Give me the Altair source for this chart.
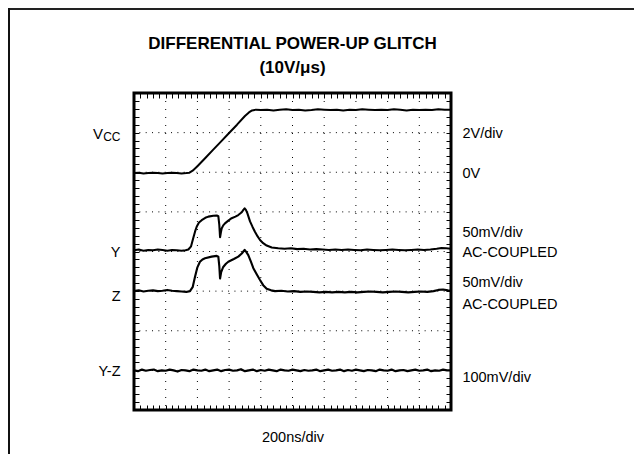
import altair as alt
import pandas as pd

# ---- data (screen divisions on y, ns on x) ----
VCC = [(0,5.98),(30,5.99),(60,5.97),(90,5.98),(120,5.99),(150,5.98),(180,5.97),(210,5.98),(240,5.99),(270,5.98),(300,5.97),(330,5.98),
       (350,5.99),(370,6.04),(400,6.15),(450,6.36),(500,6.57),(550,6.78),(600,6.99),(650,7.20),(700,7.42),(725,7.51),(745,7.56),(770,7.58),
       (800,7.57),(840,7.58),(880,7.56),(920,7.58),(960,7.59),(1000,7.57),(1040,7.58),(1080,7.56),(1120,7.57),(1160,7.59),(1200,7.58),
       (1240,7.57),(1280,7.58),(1320,7.56),(1360,7.58),(1400,7.57),(1440,7.59),(1480,7.58),(1520,7.57),(1560,7.58),(1600,7.57),(1640,7.59),
       (1680,7.58),(1720,7.56),(1760,7.58),(1800,7.57),(1840,7.58),(1880,7.57),(1920,7.59),(1960,7.58),(2000,7.58)]

Y = [(0,4.03),(30,4.05),(60,4.02),(90,4.04),(120,4.03),(150,4.05),(180,4.04),(210,4.02),(240,4.04),(270,4.03),(300,4.02),(325,4.03),
     (343,4.05),(360,4.13),(374,4.34),(385,4.50),(396,4.63),(410,4.73),(427,4.79),(450,4.85),(469,4.88),(500,4.90),(522,4.91),(532,4.89),
     (538,4.68),(543,4.36),(548,4.48),(553,4.58),(563,4.66),(574,4.71),(595,4.78),(616,4.84),(640,4.88),(658,4.92),(680,4.99),(690,5.05),
     (698,5.09),(706,5.05),(715,4.97),(732,4.76),(748,4.62),(763,4.50),(780,4.38),(795,4.29),(815,4.21),(837,4.15),(869,4.10),(910,4.08),
     (950,4.07),(990,4.08),(1030,4.06),(1070,4.07),(1110,4.05),(1150,4.06),(1190,4.05),(1230,4.04),(1270,4.05),(1310,4.04),(1350,4.05),
     (1390,4.04),(1430,4.03),(1470,4.05),(1510,4.04),(1550,4.03),(1590,4.04),(1630,4.05),(1670,4.04),(1710,4.03),(1750,4.04),(1790,4.05),
     (1830,4.04),(1870,4.05),(1910,4.07),(1940,4.09),(1970,4.08),(2000,4.07)]

Z = [(0,3.00),(30,3.02),(60,2.99),(90,3.01),(120,3.02),(150,3.00),(180,3.01),(210,3.03),(240,3.01),(270,3.00),(300,2.99),(330,2.98),
     (353,3.00),(370,3.10),(385,3.36),(400,3.60),(416,3.74),(432,3.80),(448,3.83),(490,3.87),(522,3.89),(532,3.87),(538,3.64),(543,3.32),
     (550,3.48),(563,3.61),(580,3.69),(595,3.74),(630,3.81),(658,3.87),(680,3.95),(690,4.00),(698,4.04),(708,3.99),(721,3.91),(737,3.75),
     (753,3.58),(775,3.42),(795,3.28),(815,3.15),(837,3.06),(865,3.02),(890,3.00),(930,3.01),(970,2.99),(1010,3.00),(1050,2.98),(1090,2.99),
     (1130,2.98),(1170,2.97),(1210,2.98),(1250,2.97),(1290,2.98),(1330,2.97),(1370,2.98),(1410,2.97),(1450,2.98),(1490,2.99),(1530,2.98),
     (1570,2.97),(1610,2.98),(1650,2.99),(1690,2.98),(1730,2.97),(1770,2.98),(1810,2.99),(1850,2.98),(1890,3.00),(1920,3.03),(1950,3.04),
     (1980,3.02),(2000,3.01)]

YZ_T = list(range(0, 2001, 25))
YZ_V = [1.00,0.98,1.02,0.99,1.01,1.02,0.98,1.00,0.99,1.02,
        1.00,0.97,1.01,1.00,0.98,1.02,1.00,0.99,1.02,0.98,
        1.00,1.02,0.98,1.01,1.02,0.99,1.00,1.03,0.98,1.00,
        1.02,0.98,1.01,0.99,1.02,1.00,0.98,1.02,1.00,0.99,
        1.02,1.00,0.98,1.01,0.99,1.00,1.02,0.98,1.00,1.02,
        0.99,1.00,1.02,0.98,1.01,0.99,1.02,1.00,0.98,1.01,
        1.00,0.98,1.02,1.00,0.99,1.02,0.98,1.00,1.01,0.98,
        1.00,1.02,0.99,1.00,1.02,0.98,1.00,0.99,1.02,1.00,
        1.00]

GRID_X = [200, 400, 600, 800, 1000, 1200, 1400, 1600, 1800]
GRID_Y = [1, 2, 3, 4, 5, 6, 7]
TICK_X = list(range(0, 2001, 40))
TICK_Y = [i / 5 for i in range(41)]

LEFT_TEXT = ["Y", "Z", "Y-Z"]
LEFT_LEVEL = [4.0, 2.9, 1.0]
RIGHT_TEXT = ["2V/div", "0V", "50mV/div", "AC-COUPLED", "50mV/div", "AC-COUPLED", "100mV/div"]
RIGHT_LEVEL = [7.0, 6.0, 4.5, 4.0, 3.25, 2.7, 0.85]
LEFT_T = -85
RIGHT_T = 2072
TITLE = ["DIFFERENTIAL POWER-UP GLITCH", "(10V/μs)"]
X_TITLE = "200ns/div"

FONT = "Liberation Sans"
FS = 14.5

# ---- tables ----
rows = []
for name, pts in [("VCC", VCC), ("Y", Y), ("Z", Z)]:
    for t, v in pts:
        rows.append({"t": t, "v": v, "trace": name})
for t, v in zip(YZ_T, YZ_V):
    rows.append({"t": t, "v": v, "trace": "Y-Z"})
traces = pd.DataFrame(rows)

left_df = pd.DataFrame({"label": LEFT_TEXT, "v": LEFT_LEVEL, "t": [LEFT_T] * len(LEFT_TEXT)})
right_df = pd.DataFrame({"label": RIGHT_TEXT, "v": RIGHT_LEVEL, "t": [RIGHT_T] * len(RIGHT_TEXT)})
vcc_df = pd.DataFrame({"t": [LEFT_T], "v": [7.0]})

xs = alt.Scale(domain=[0, 2000], nice=False, zero=False)
ys = alt.Scale(domain=[0, 8], nice=False, zero=False)


def tick_axis(orient, values, title=None):
    kw = dict(orient=orient, values=values, labels=False, domain=False, grid=False,
              ticks=True, tickSize=5, tickWidth=1, tickColor="black", offset=-5)
    if title:
        kw.update(title=title, titleFont=FONT, titleFontSize=FS, titleFontWeight="normal",
                  titleColor="black", titlePadding=20)
    else:
        kw.update(title=None)
    return alt.Axis(**kw)


xgrid = alt.Chart(pd.DataFrame({"t": GRID_X})).mark_rule(
    color="black", strokeWidth=1, strokeDash=[1, 7]
).encode(x=alt.X("t:Q", scale=xs, axis=None))

ygrid = alt.Chart(pd.DataFrame({"v": GRID_Y})).mark_rule(
    color="black", strokeWidth=1, strokeDash=[1, 5.34]
).encode(y=alt.Y("v:Q", scale=ys, axis=None))

lines = alt.Chart(traces).mark_line(color="black", strokeJoin="round").encode(
    x=alt.X("t:Q", scale=xs, axis=tick_axis("bottom", TICK_X, X_TITLE)),
    y=alt.Y("v:Q", scale=ys, axis=tick_axis("left", TICK_Y)),
    detail="trace:N",
    strokeWidth=alt.StrokeWidth("trace:N", scale=alt.Scale(domain=["VCC", "Y", "Z", "Y-Z"],
                                                          range=[2, 2.2, 2.2, 1.3]), legend=None),
)

left_txt = alt.Chart(left_df).mark_text(
    align="right", baseline="middle", font=FONT, fontSize=FS, color="black", dy=1.5
).encode(
    x=alt.X("t:Q", scale=xs, axis=tick_axis("top", TICK_X)),
    y=alt.Y("v:Q", scale=ys, axis=tick_axis("right", TICK_Y)),
    text="label:N",
)

right_txt = alt.Chart(right_df).mark_text(
    align="left", baseline="middle", font=FONT, fontSize=FS, color="black", dy=1.5
).encode(
    x=alt.X("t:Q", scale=xs, axis=None),
    y=alt.Y("v:Q", scale=ys, axis=None),
    text="label:N",
)

vcc_v = alt.Chart(vcc_df).mark_text(
    align="right", baseline="middle", font=FONT, fontSize=15, color="black", dx=-17.5, dy=1.5, text="V"
).encode(x=alt.X("t:Q", scale=xs, axis=None), y=alt.Y("v:Q", scale=ys, axis=None))

vcc_cc = alt.Chart(vcc_df).mark_text(
    align="right", baseline="middle", font=FONT, fontSize=12, color="black", dy=4.5, text="CC"
).encode(x=alt.X("t:Q", scale=xs, axis=None), y=alt.Y("v:Q", scale=ys, axis=None))

frame_top = alt.Chart(vcc_df).mark_rule(color="#222", strokeWidth=2).encode(
    x=alt.value(-126), x2=alt.value(502), y=alt.value(-84))
frame_left = alt.Chart(vcc_df).mark_rule(color="#111", strokeWidth=2).encode(
    x=alt.value(-125), y=alt.value(-85), y2=alt.value(362))

chart = alt.layer(
    xgrid, ygrid, lines, left_txt, right_txt, vcc_v, vcc_cc, frame_top, frame_left
).resolve_axis(x="independent", y="independent").properties(
    width=317, height=317,
    autosize=alt.AutoSizeParams(type="none"),
    padding={"left": 126, "top": 85, "right": 183, "bottom": 44},
    title=alt.TitleParams(text=TITLE, font="Liberation Sans", fontSize=17, fontWeight="bold",
                          lineHeight=24, anchor="middle", offset=-70, color="black"),
    background="white",
).configure_view(stroke="black", strokeWidth=3)

chart.save("out.html", embed_options={"renderer": "svg", "actions": False})
